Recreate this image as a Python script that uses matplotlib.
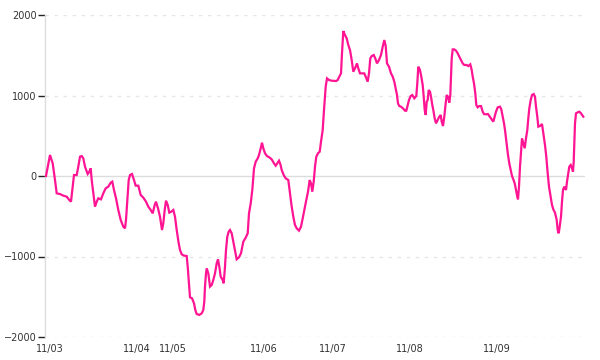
import matplotlib
matplotlib.use('Agg')
import matplotlib.pyplot as plt

# values (t = position along the axis, v = value)
t = [0, 4, 6.7, 9, 10.7, 14, 17.3, 20.7, 23.3, 25, 26.3, 28, 30.7, 32.3, 34, 35.7, 37.3, 39,
     41.7, 43.3, 44.7, 45.7, 47.3, 49, 50.7, 52.3, 55, 57.3, 59.7, 62.3, 64.7, 66.3, 68, 70,
     72.3, 74.7, 77.3, 79, 80, 81.3, 82.7, 84, 86, 88, 89.7, 92.3, 94.7, 97.3, 100, 102.3,
     104.7, 106.7, 108.7, 110, 112, 114, 116, 117.3, 118.7, 120, 121.7, 123.3, 125.3, 127.3,
     129, 130.7, 132.7, 134, 135.7, 138, 140.7, 141.7, 142.7, 144, 146, 148, 149.3, 150.7,
     153.3, 155.7, 157.3, 158.3, 159, 160, 160.7, 162.3, 164, 165.7, 167.3, 169, 170.7, 172,
     173.3, 174.7, 176.7, 177.7, 179, 180, 181.3, 182.7, 184, 185.7, 188.3, 190.7, 193, 195,
     197.3, 199.7, 201.7, 203, 204.7, 206.3, 208, 209.7, 211.7, 213, 214.7, 216, 217.3, 219,
     221, 223.3, 225.7, 228, 229.7, 231.7, 233, 234.3, 235.7, 237.7, 239.7, 242.3, 244,
     245.7, 247.3, 249, 250.7, 253, 255, 256.7, 258.3, 260.3, 262, 263.7, 265, 266.3, 267.7,
     269, 270.3, 272, 273.7, 275, 276.7, 278, 279.7, 281, 283, 285.7, 290, 291.7, 293.3, 295,
     296, 297.3, 299, 300.7, 302.3, 304, 305.7, 307.3, 309, 311, 312.3, 314, 316.3, 318.3,
     319.7, 321.7, 323, 324.3, 325.7, 327.7, 329.3, 331, 333, 335, 336.7, 338.3, 339.7, 341,
     343, 345, 346.7, 348.3, 349.7, 351, 352, 353.3, 355, 357, 359, 360.3, 361.7, 363, 364.7,
     366.3, 368.3, 370.3, 371.3, 372.3, 374, 375.3, 376.7, 377.7, 378.7, 379.7, 380.7, 381.7,
     382.7, 384, 385, 386.3, 387.3, 388.7, 390, 391.7, 393.3, 394.7, 395.7, 397, 398.3, 399.3,
     400.7, 402, 403.3, 404.3, 405, 405.7, 406.7, 408.3, 410, 411.7, 413.3, 415, 416.7, 418.3,
     420.7, 422.3, 424.3, 425.7, 426.7, 428, 429.3, 430.3, 431.7, 433.3, 435, 436.7, 438, 440,
     442, 443.3, 445, 447.3, 448.7, 450, 451.7, 454, 455.3, 456.7, 458, 459, 460, 461, 462,
     463.3, 464.7, 466, 467.3, 468.7, 470, 471.3, 472, 473, 474, 475, 476, 477.3, 478.7, 480,
     481.3, 482.3, 483.3, 484.7, 486, 487.7, 489, 490, 491.3, 492.3, 494, 496, 497.3, 499,
     500.3, 501.7, 503, 504.7, 506, 507.3, 509, 510.7, 511.7, 512.7, 513.7, 515, 516, 517,
     518.3, 520, 521, 522.3, 523.3, 524.7, 526, 527, 527.7, 528.3, 529, 530, 531.7, 533.3,
     535, 537.3]
v = [0, 261, 157, -50, -215, -224, -244, -257, -298, -319, -174, 12, 12, 116, 240, 248, 219, 116,
     25, 54, 95, -50, -215, -381, -319, -277, -290, -215, -153, -132, -83, -70, -174, -277,
     -422, -546, -629, -650, -546, -298, -50, 12, 25, -50, -120, -120, -236, -269, -319, -381,
     -422, -464, -360, -319, -402, -505, -671, -588, -422, -306, -360, -455, -443, -422,
     -505, -671, -836, -919, -973, -989, -994, -1126, -1292, -1507, -1519, -1581, -1664, -1714,
     -1726, -1706, -1664, -1561, -1374, -1209, -1147, -1209, -1374, -1354, -1292, -1209, -1085, -1035,
     -1126, -1250, -1292, -1333, -1126, -919, -753, -691, -671, -712, -878, -1035, -1010, -960,
     -816, -766, -712, -464, -339, -174, 95, 178, 219, 261, 344, 414, 344, 282,
     248, 232, 207, 157, 128, 166, 190, 149, 75, 12, -29, -50, -215,
     -381, -505, -609, -650, -679, -629, -526, -422, -298, -195, -50, -91, -195, -70,
     116, 240, 282, 302, 426, 571, 820, 1110, 1213, 1192, 1184, 1180, 1192, 1234, 1275,
     1524, 1801, 1751, 1710, 1627, 1565, 1441, 1296, 1337, 1399, 1337, 1275, 1275, 1275,
     1234, 1172, 1275, 1461, 1490, 1503, 1461, 1399, 1441, 1503, 1606, 1689, 1615, 1399,
     1358, 1275, 1234, 1172, 1089, 1006, 902, 869, 861, 840, 811, 811, 882, 944, 994,
     1006, 965, 994, 1151, 1358, 1317, 1234, 1130, 985, 820, 758, 923, 944,
     1068, 1047, 985, 882, 820, 716, 654, 696, 737, 758, 675, 621, 737, 861,
     1006, 985, 911, 1006, 1234, 1461, 1573, 1573, 1557, 1524, 1482, 1441, 1399, 1379,
     1379, 1366, 1387, 1317, 1234, 1151, 1027, 882, 853, 869, 869, 799, 770, 766,
     770, 745, 716, 675, 737, 799, 853, 861, 828, 737, 654, 571, 468, 364, 261,
     157, 75, 0, -41, -91, -174, -257, -290, -132, 116, 302, 468, 406, 344, 468,
     571, 716, 840, 944, 1006, 1018, 985, 861, 737, 613, 621, 646, 530, 385,
     240, 33, -132, -257, -360, -414, -455, -546, -671, -712, -629, -505, -319, -174,
     -132, -174, -70, 33, 116, 137, 95, 54, 178, 406, 654, 778, 791, 799,
     778, 737]

tick_pos = [3.5, 91, 126.5, 218, 287, 363.5, 451]
tick_labels = ['11/03', '11/04', '11/05', '11/06', '11/07', '11/08', '11/09']
y_ticks = [-2000, -1000, 0, 1000, 2000]

fig = plt.figure(figsize=(6, 3.6), dpi=100)
ax = fig.add_axes([0.075, 0.0639, 0.9, 0.8944])

# 网格线
for y in y_ticks:
    if y == 0:
        ax.axhline(y, color='#dddddd', lw=1, zorder=1)
    else:
        ax.axhline(y, color='#e6e6e6', lw=1, ls=(0, (2.5, 4)), zorder=1)

ax.plot(t, v, color='#ff1493', lw=1.6, zorder=3, solid_joinstyle='miter')

ax.set_xlim(-1, 539)
ax.set_ylim(-2000, 2000)

for s in ['top', 'right', 'bottom']:
    ax.spines[s].set_visible(False)
ax.spines['left'].set_color('#dddddd')
ax.spines['left'].set_linewidth(1)

ax.set_yticks(y_ticks)
ax.set_yticklabels([str(y).replace('-', '\u2212') for y in y_ticks])
ax.set_xticks(tick_pos)
ax.set_xticklabels(tick_labels)
ax.tick_params(axis='y', length=5, width=1, color='#222222', labelsize=7, labelcolor='#333333', pad=1)
ax.tick_params(axis='x', length=0, labelsize=7, labelcolor='#333333', pad=5)

fig.savefig('out.png', dpi=100)
